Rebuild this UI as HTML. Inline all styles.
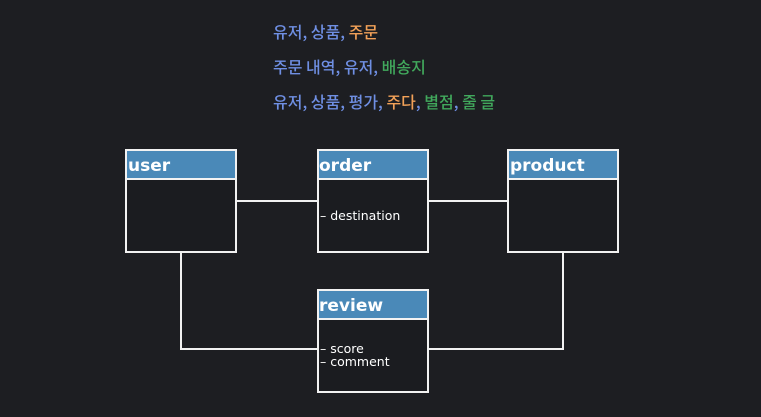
<!DOCTYPE html>
<html><head><meta charset="utf-8"><style>
html,body{margin:0;padding:0;background:#1d1e22;}
svg{display:block}
text{font-family:"DejaVu Sans","Noto Sans CJK KR",sans-serif;}
.k{font-family:"Noto Sans CJK KR",sans-serif;font-size:16px;font-weight:500}
</style></head><body>
<svg width="761" height="417" viewBox="0 0 761 417" xmlns="http://www.w3.org/2000/svg">
<rect width="761" height="417" fill="#1d1e22"/>
<text class="k" x="273" y="38"><tspan fill="#6f8fe3">유저, 상품, </tspan><tspan fill="#f2a158">주문</tspan></text>
<text class="k" x="273" y="73"><tspan fill="#6f8fe3">주문 내역, 유저, </tspan><tspan fill="#41a85c">배송지</tspan></text>
<text class="k" x="273" y="108"><tspan fill="#6f8fe3">유저, 상품, 평가, </tspan><tspan fill="#f2a158">주다</tspan><tspan fill="#6f8fe3">, </tspan><tspan fill="#41a85c">별점</tspan><tspan fill="#6f8fe3">, </tspan><tspan fill="#41a85c">줄 글</tspan></text>
<g stroke="#f2f2f2" stroke-width="2" fill="none">
<line x1="236" y1="201" x2="317" y2="201"/>
<line x1="428" y1="201" x2="508" y2="201"/>
<polyline points="181,252 181,349 317,349"/>
<polyline points="563,252 563,349 428,349"/>
</g>
<g stroke="#f2f2f2" stroke-width="2">
<rect x="126" y="150" width="110" height="102" fill="#1b1c20"/>
<rect x="127" y="151" width="108" height="27" fill="#4a89b8" stroke="none"/>
<line x1="126" y1="179" x2="236" y2="179"/>
<rect x="318" y="150" width="110" height="102" fill="#1b1c20"/>
<rect x="319" y="151" width="108" height="27" fill="#4a89b8" stroke="none"/>
<line x1="318" y1="179" x2="428" y2="179"/>
<rect x="508" y="150" width="110" height="102" fill="#1b1c20"/>
<rect x="509" y="151" width="108" height="27" fill="#4a89b8" stroke="none"/>
<line x1="508" y1="179" x2="618" y2="179"/>
<rect x="318" y="290" width="110" height="102" fill="#1b1c20"/>
<rect x="319" y="291" width="108" height="27" fill="#4a89b8" stroke="none"/>
<line x1="318" y1="319" x2="428" y2="319"/>
</g>
<g fill="#ffffff" font-size="17" font-weight="bold">
<text x="128" y="171">user</text>
<text x="319" y="171">order</text>
<text x="510" y="171">product</text>
<text x="319" y="311">review</text>
</g>
<g fill="#ffffff" font-size="12.5">
<text x="320" y="220">–  destination</text>
<text x="320" y="353">–  score</text>
<text x="320" y="366">–  comment</text>
</g>
</svg>
</body></html>
